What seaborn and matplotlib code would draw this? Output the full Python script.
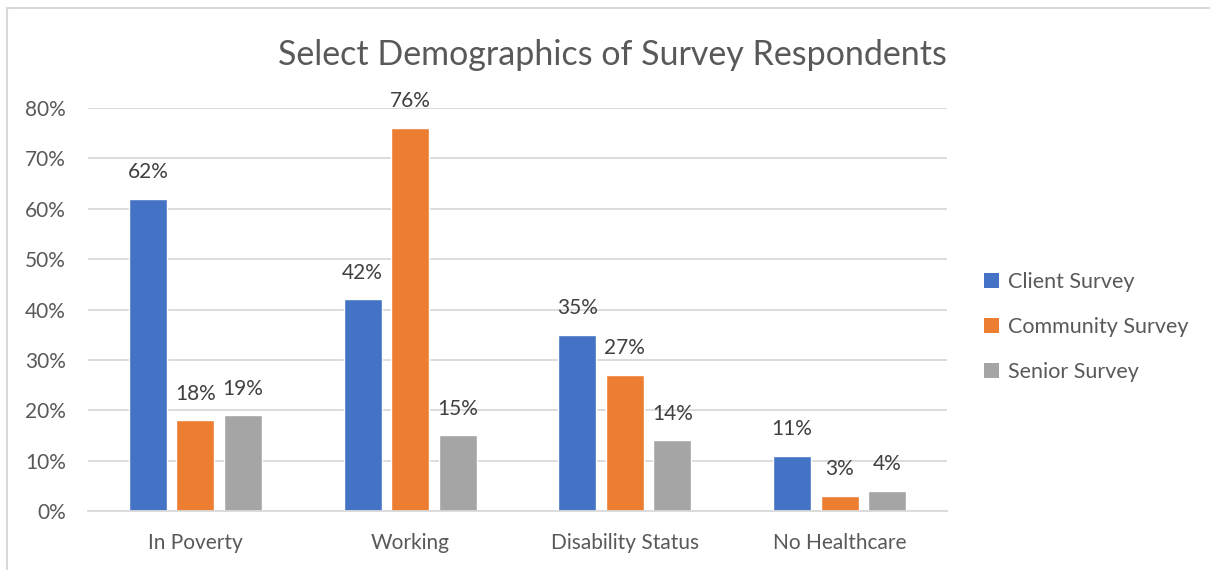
import matplotlib
matplotlib.use("Agg")
import matplotlib.pyplot as plt
import seaborn as sns
import pandas as pd
from matplotlib.patches import Rectangle, Patch

categories = ["In Poverty", "Working", "Disability Status", "No Healthcare"]
series = ["Client Survey", "Community Survey", "Senior Survey"]
client = [0.62, 0.42, 0.35, 0.11]
community = [0.18, 0.76, 0.27, 0.03]
senior = [0.19, 0.15, 0.14, 0.04]
colors = ["#4472C4", "#ED7D31", "#A5A5A5"]
yticks = [0, 0.1, 0.2, 0.3, 0.4, 0.5, 0.6, 0.7, 0.8]
ytick_labels = ["0%", "10%", "20%", "30%", "40%", "50%", "60%", "70%", "80%"]
title = "Select Demographics of Survey Respondents"

rows = []
for name, vals in zip(series, [client, community, senior]):
    for c, v in zip(categories, vals):
        rows.append({"Category": c, "Series": name, "Value": v})
df = pd.DataFrame(rows)

sns.set_theme(style="white")
plt.rcParams["font.family"] = ["Lato", "DejaVu Sans"]
txt = "#595959"
fs = 15

fig = plt.figure(figsize=(12.1, 5.7), dpi=100)
W, H = 1210, 570
ax = fig.add_axes([88 / W, 1 - 511 / H, (947 - 88) / W, (511 - 108) / H])

sns.barplot(data=df, x="Category", y="Value", hue="Series", palette=colors,
            width=0.663, gap=0.2, ax=ax, legend=False, saturation=1)

for cont in ax.containers:
    ax.bar_label(cont, labels=[f"{v*100:.0f}%" for v in cont.datavalues],
                 padding=12, fontsize=fs, color="#404040")

ax.set_ylim(0, 0.8)
ax.set_xlim(-0.5, 3.5)
ax.set_yticks(yticks)
ax.set_yticklabels(ytick_labels)
ax.yaxis.grid(True, color="#D9D9D9", linewidth=1.3)
ax.set_axisbelow(True)
for s in ["top", "right", "left"]:
    ax.spines[s].set_visible(False)
ax.spines["bottom"].set_color("#D9D9D9")
ax.spines["bottom"].set_linewidth(1.3)
ax.tick_params(axis="both", length=0, labelsize=fs, colors=txt)
ax.tick_params(axis="y", pad=16)
ax.tick_params(axis="x", pad=16)
ax.set_xlabel("")
ax.set_ylabel("")

fig.text(612 / W, 1 - 55 / H, title, ha="center", va="center", fontsize=24.5, color=txt)

handles = [Patch(facecolor=c, edgecolor="none") for c in colors]
leg = fig.legend(handles, series, loc="center left", bbox_to_anchor=(965 / W, 1 - 327 / H),
                 frameon=False, fontsize=15.5, labelcolor=txt, handlelength=0.7,
                 handleheight=0.7, handletextpad=0.4, labelspacing=1.15)

fig.patches.append(Rectangle((7 / W, -0.1), 1.5, 1.1 - 8 / H, transform=fig.transFigure,
                             fill=False, edgecolor="#D9D9D9", linewidth=1.5))

fig.savefig("out.png", dpi=100)
